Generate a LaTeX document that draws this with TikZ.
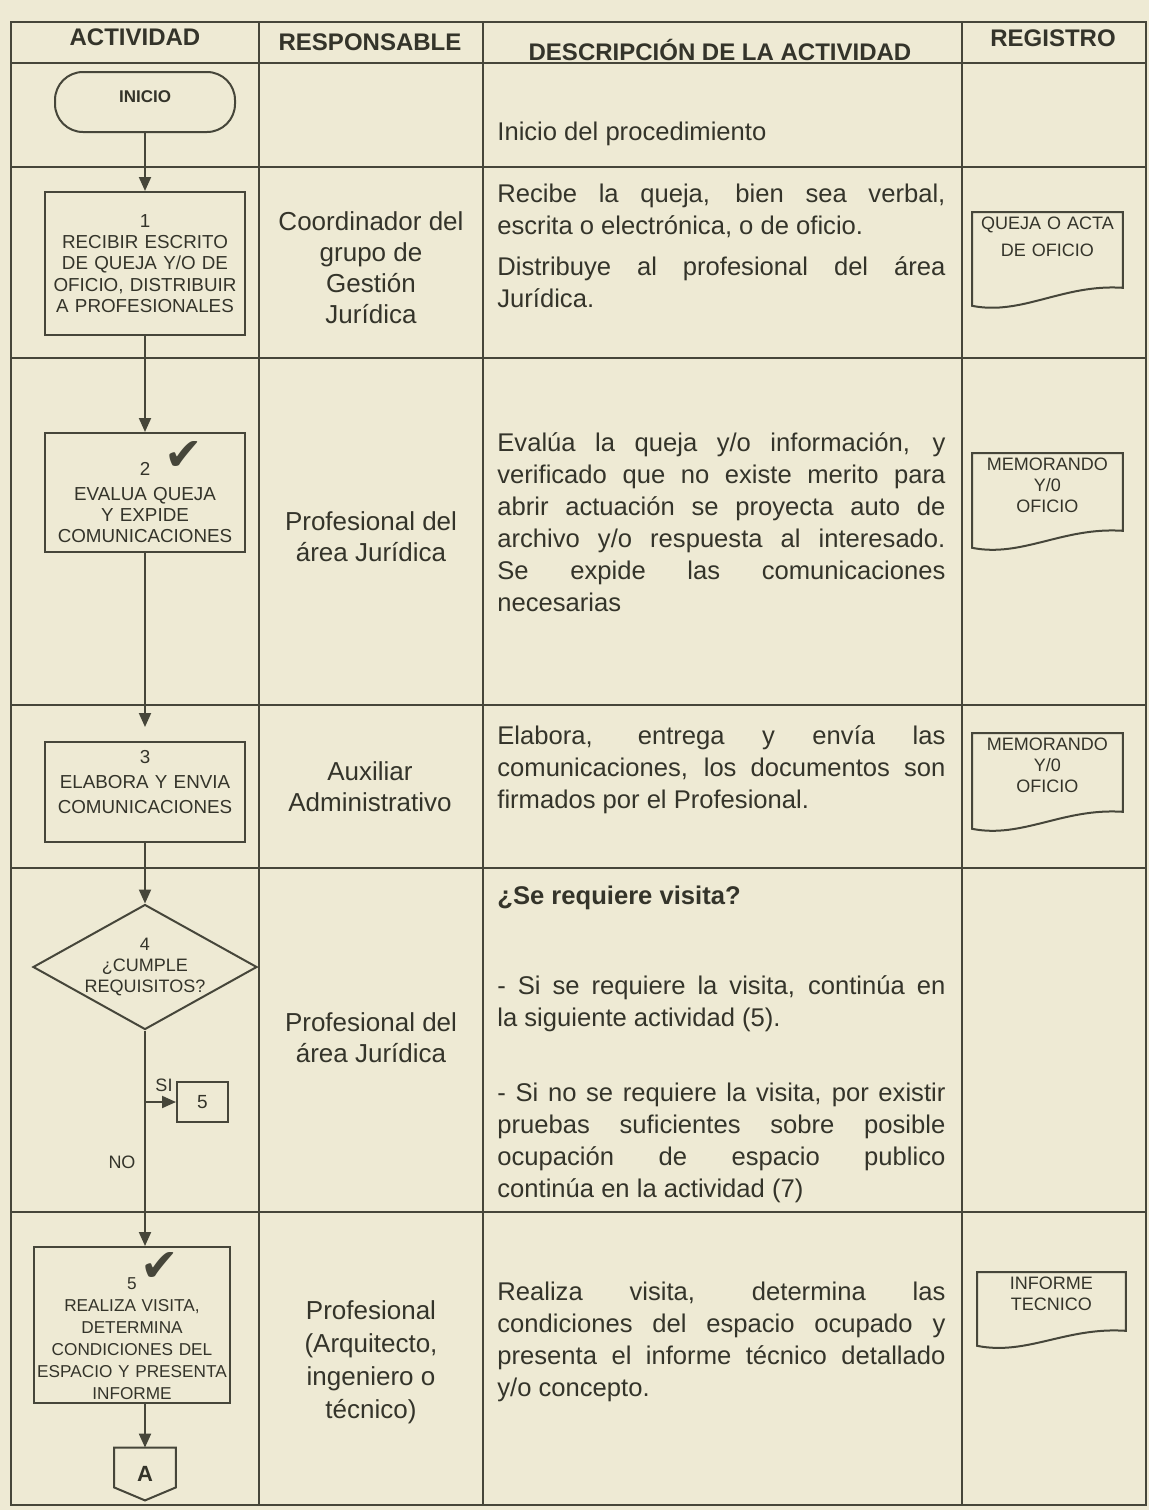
\documentclass[tikz,border=0pt]{standalone}
\usepackage{fontspec}
\setmainfont{Liberation Sans}
\newfontfamily\checkfont{DejaVu Sans}
\usetikzlibrary{arrows.meta,positioning,shapes.geometric}
\definecolor{paper}{RGB}{238,234,212}
\definecolor{ink}{RGB}{52,52,42}
\definecolor{rule}{RGB}{70,70,58}
\newcommand{\descfont}{\fontsize{12.8pt}{16pt}\selectfont\hyphenpenalty=10000\tolerance=9999}

\begin{document}
\begin{tikzpicture}[x=0.5pt,y=-0.5pt,
    grid/.style={draw=rule,line width=1.4pt},
    head/.style={text=ink,font=\bfseries\fontsize{12pt}{14pt}\selectfont},
    term/.style={draw=rule,line width=1pt,rounded corners=14pt,minimum width=90pt,minimum height=30pt,text=ink,text depth=5pt,font=\bfseries\fontsize{8.5pt}{10pt}\selectfont},
    box/.style={draw=rule,line width=1pt,text=ink,align=center,inner sep=0pt,font=\fontsize{9.4pt}{10.6pt}\selectfont},
    decision/.style={draw=rule,line width=1pt,diamond,aspect=1.8,minimum width=112pt,minimum height=62.5pt,inner sep=0pt},
    flowtext/.style={text=ink,align=center,inner sep=0pt,font=\fontsize{9pt}{10.5pt}\selectfont},
    check/.style={text=rule,inner sep=0pt,font=\checkfont\fontsize{23pt}{23pt}\selectfont},
    resp/.style={text=ink,align=center,font=\fontsize{13pt}{15.5pt}\selectfont},
    desc/.style={anchor=base west,text width=224pt,align=justify,inner sep=0pt,text=ink,font=\descfont},
    doc/.style={anchor=north west,text width=72pt,align=center,inner xsep=1.5pt,inner ysep=1pt,text height=7.7pt,text=ink,font=\fontsize{9pt}{10.5pt}\selectfont},
    docline/.style={draw=rule,line width=1pt},
    arrow/.style={draw=rule,line width=1pt,-{Triangle[width=6pt,length=7pt]}}]

  % paper and table
  \fill[paper] (0,0) rectangle (1149,1510);
  \draw[grid] (11,22) rectangle (1146,1505);
  \foreach \y in {63,167,358,705,868,1212}
    \draw[grid] (11,\y) -- (1146,\y);
  \foreach \x in {259,483,962}
    \draw[grid] (\x,22) -- (\x,1505);

  % headers
  \node[head] (hact) at (135,37) {ACTIVIDAD};
  \node[head] (hres) at (370,42) {RESPONSABLE};
  \node[head] (hdes) at (720,50) {DESCRIPCIÓN DE LA ACTIVIDAD};
  \node[head] (hreg) at (1053,38) {REGISTRO};

  % flow
  \node[term] (inicio) at (145,102) {INICIO};
  \node[box,minimum width=100pt,minimum height=71.5pt,text width=97pt] (act1) at (145,263.5)
    {1\\RECIBIR ESCRITO\\DE QUEJA Y/O DE\\OFICIO, DISTRIBUIR\\A PROFESIONALES};
  \node[box,minimum width=100pt,minimum height=59.5pt,text width=97pt,text height=16.7pt] (act2) at (145,492.5)
    {2\\[2pt]EVALUA QUEJA\\Y EXPIDE\\COMUNICACIONES};
  \node[check] (chk2) at (184,456) {✔};
  \node[box,minimum width=100pt,minimum height=50pt,text width=97pt,text depth=35pt,font=\fontsize{9.4pt}{12.5pt}\selectfont] (act3) at (145,792)
    {3\\ELABORA Y ENVIA\\COMUNICACIONES};
  \node[decision,label={[flowtext]center:{4\\¿CUMPLE\\REQUISITOS?}}] (dec) at (145,967) {};
  \coordinate (si) at (145,1102);
  \node[box,minimum width=25.5pt,minimum height=20pt,font=\fontsize{9.5pt}{11pt}\selectfont] (ref5) at (202.5,1102) {5};
  \node[flowtext] (lsi) at (164,1085) {SI};
  \node[flowtext] (lno) at (122,1162) {NO};
  \node[box,minimum width=98pt,minimum height=78pt,text width=97pt,text height=19.2pt,font=\fontsize{8.6pt}{11pt}\selectfont] (act5) at (132,1325)
    {5\\REALIZA VISITA,\\DETERMINA\\CONDICIONES DEL\\ESPACIO Y PRESENTA\\INFORME};
  \node[check] (chk5) at (160,1267) {✔};
  \node[text=ink,inner sep=0pt,minimum width=30.5pt,minimum height=26pt,font=\bfseries\fontsize{11pt}{12pt}\selectfont] (conA) at (145,1474) {A};
  \draw[docline] (conA.north west) -- (conA.north east) -- ([yshift=6.5pt]conA.south east)
    -- (conA.south) -- ([yshift=6.5pt]conA.south west) -- cycle;

  \draw[arrow] (inicio) -- (act1);
  \draw[arrow] (act1) -- (act2);
  \draw[arrow,shorten >=7pt] (act2) -- (act3);
  \draw[arrow] (act3) -- (dec);
  \draw[arrow] (dec.south) -- (dec.south |- act5.north);
  \draw[arrow] (si) -- (ref5);
  \draw[arrow] (act5.south -| conA.north) -- (conA.north);

  % responsables
  \node[resp] (r1) at (371,268) {Coordinador del\\grupo de\\Gestión\\Jurídica};
  \node[resp] (r2) at (371,537) {Profesional del\\área Jurídica};
  \node[resp] (r3) at (370,787) {Auxiliar\\Administrativo};
  \node[resp] (r4) at (371,1038) {Profesional del\\área Jurídica};
  \node[resp,font=\fontsize{13pt}{16.5pt}\selectfont] (r5) at (371,1362) {Profesional\\(Arquitecto,\\ingeniero o\\técnico)};

  % descripciones
  \node[desc] (d0) at (497,140) {Inicio del procedimiento};
  \node[desc] (d1a) at (497,202) {Recibe la queja, bien sea verbal,\linebreak escrita o electrónica, o de oficio.};
  \node[desc] (d1b) at (497,275) {Distribuye al profesional del área\linebreak Jurídica.};
  \node[desc] (d2) at (497,451) {Evalúa la queja y/o información, y\linebreak verificado que no existe merito para\linebreak abrir actuación se proyecta auto de\linebreak archivo y/o respuesta al interesado.\linebreak Se expide las comunicaciones\linebreak necesarias};
  \node[desc] (d3) at (497,744) {Elabora, entrega y envía las\linebreak comunicaciones, los documentos son\linebreak firmados por el Profesional.};
  \node[desc,font=\descfont\bfseries] (d4a) at (497,904) {¿Se requiere visita?};
  \node[desc] (d4b) at (497,994) {- Si se requiere la visita, continúa en\linebreak la siguiente actividad (5).};
  \node[desc] (d4c) at (497,1101) {- Si no se requiere la visita, por existir\linebreak pruebas suficientes sobre posible\linebreak ocupación de espacio publico\linebreak continúa en la actividad (7)};
  \node[desc] (d5) at (497,1300) {Realiza visita, determina las\linebreak condiciones del espacio ocupado y\linebreak presenta el informe técnico detallado\linebreak y/o concepto.};

  % registros
  \node[doc,text depth=36.8pt] (reg1) at (972,212) {QUEJA O ACTA\\[3pt]DE OFICIO};
  \node[doc,text depth=37.3pt] (reg2) at (972,453) {MEMORANDO\\Y/0\\OFICIO};
  \node[doc,text depth=37.8pt] (reg3) at (972,733) {MEMORANDO\\Y/0\\OFICIO};
  \node[doc,text depth=26.8pt,text width=71pt] (reg4) at (977,1272) {INFORME\\TECNICO};
  \foreach \d/\r in {reg1/9pt,reg2/8.5pt,reg3/8.5pt,reg4/7.5pt}
    \draw[docline] (\d.north west) -- (\d.north east) -- ([yshift=\r]\d.south east)
      .. controls ([xshift=-30pt,yshift=\r+2pt]\d.south east) and ([xshift=25pt,yshift=-5pt]\d.south west) .. (\d.south west) -- cycle;
\end{tikzpicture}
\end{document}
